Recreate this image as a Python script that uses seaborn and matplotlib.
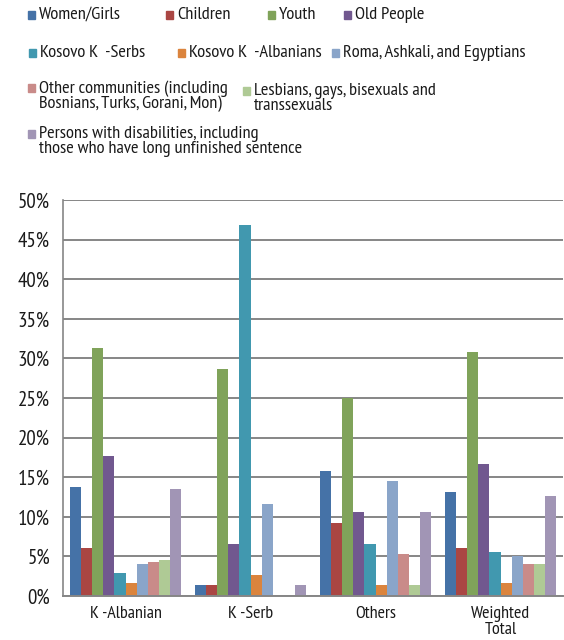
import numpy as np
import pandas as pd
import seaborn as sns
import matplotlib.pyplot as plt
from matplotlib.patches import Rectangle
from matplotlib.ticker import FuncFormatter

# data (percent)
categories = ['K -Albanian', 'K -Serb', 'Others', 'Weighted\nTotal']
groups = ['Women/Girls', 'Children', 'Youth', 'Old People',
          'Kosovo K  -Serbs', 'Kosovo K  -Albanians', 'Roma, Ashkali, and Egyptians',
          'Other communities (including\nBosnians, Turks, Gorani, Mon)',
          'Lesbians, gays, bisexuals and\ntranssexuals',
          'Persons with disabilities, including\nthose who have long unfinished sentence']
k_albanian = [13.8, 6.1, 31.3, 17.7, 2.9, 1.6, 4.0, 4.3, 4.5, 13.5]
k_serb = [1.4, 1.4, 28.7, 6.6, 46.8, 2.6, 11.6, 0.0, 0.0, 1.4]
others = [15.8, 9.2, 25.0, 10.6, 6.6, 1.4, 14.5, 5.3, 1.4, 10.6]
weighted_total = [13.1, 6.1, 30.8, 16.7, 5.6, 1.6, 5.0, 4.0, 4.0, 12.6]
colors = ['#4572A7', '#AA4643', '#80A35A', '#71588F', '#4198AF',
          '#DB843D', '#8AA5C9', '#C98B89', '#AFCA95', '#A195B5']

rows = []
for cat, vals in zip(categories, [k_albanian, k_serb, others, weighted_total]):
    for g, v in zip(groups, vals):
        rows.append((cat, g, v))
df = pd.DataFrame(rows, columns=['Category', 'Group', 'Value'])

sns.set_style('white')
plt.rcParams['font.family'] = ['PT Sans Narrow', 'DejaVu Sans']
txt = '#1a1a1a'
grid_c = '#868686'

fig = plt.figure(figsize=(5.64, 6.4), dpi=100)
ax = fig.add_axes([63 / 564, 44 / 640, 500 / 564, 396 / 640])

sns.barplot(data=df, x='Category', y='Value', hue='Group', order=categories,
            hue_order=groups, palette=colors, width=0.89, saturation=1,
            linewidth=0, legend=False, ax=ax)

ax.set_ylim(0, 50)
ax.set_xlim(-0.5, 3.5)
ax.set_yticks(np.arange(0, 51, 5))
ax.yaxis.set_major_formatter(FuncFormatter(lambda v, p: f'{v:.0f}%'))
ax.set_axisbelow(True)
ax.yaxis.grid(True, color=grid_c, linewidth=1.4)
ax.set_xlabel('')
ax.set_ylabel('')
for s in ['top', 'right']:
    ax.spines[s].set_visible(False)
ax.spines['left'].set_color(grid_c)
ax.spines['bottom'].set_color(grid_c)
ax.spines['left'].set_linewidth(1.2)
ax.spines['bottom'].set_linewidth(1.4)
ax.tick_params(axis='y', length=4.5, color=grid_c, labelsize=15, labelcolor=txt, pad=5)
ax.tick_params(axis='x', which='major', length=0, labelsize=13, labelcolor=txt, pad=7)
ax.set_xticks(np.arange(-0.5, 3.6, 1), minor=True)
ax.tick_params(axis='x', which='minor', length=5, color=grid_c)
for lab in ax.get_xticklabels():
    lab.set_linespacing(1.0)

# legend laid out like the original
entries = [(28, 15), (166, 15), (268, 15), (344, 15),
           (29, 53), (178, 53), (332, 53),
           (28, 88), (243, 91),
           (28, 134)]
for (x, y), g, c in zip(entries, groups, colors):
    fig.patches.append(Rectangle((x / 564, 1 - (y + 3.5) / 640), 7 / 564, 7 / 640,
                                 transform=fig.transFigure, color=c))
    fig.text((x + 11) / 564, 1 - (y - 8) / 640, g, ha='left', va='top',
             fontsize=13.2, color=txt, linespacing=0.92)

fig.savefig('out.png', dpi=100)
